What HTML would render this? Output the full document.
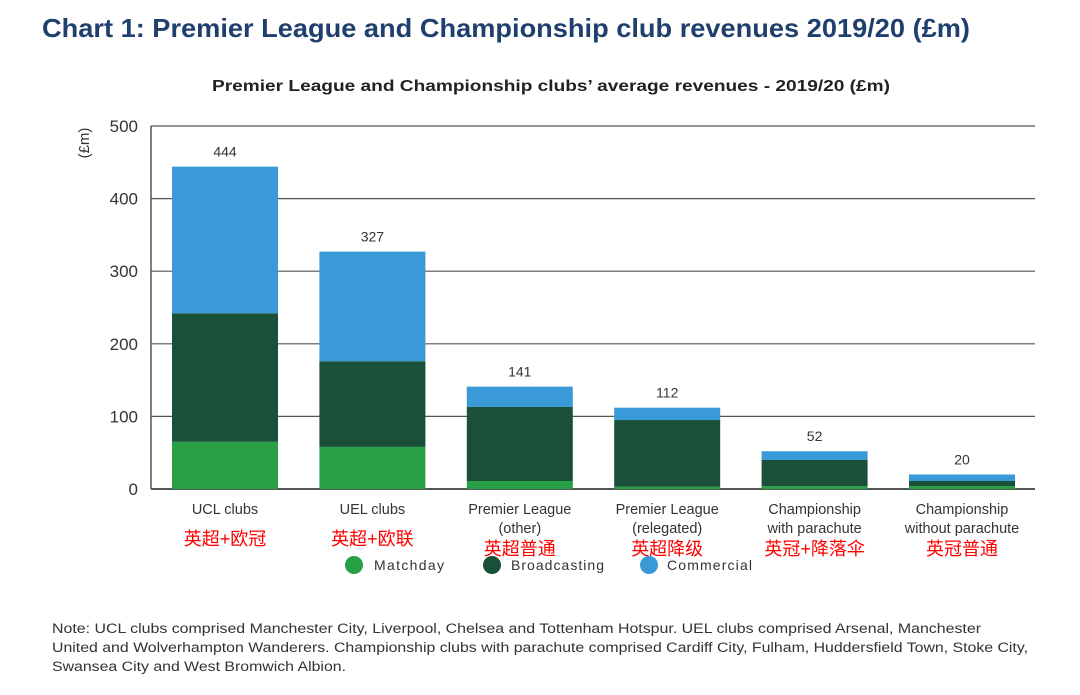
<!DOCTYPE html>
<html><head><meta charset="utf-8"><style>
body{margin:0;width:1080px;height:690px;background:#fff;overflow:hidden;font-family:"Liberation Sans","Noto Sans CJK SC",sans-serif}
</style></head><body>
<svg id="c" width="1080" height="690" xmlns="http://www.w3.org/2000/svg">
<text x="42" y="37" font-size="26" font-weight="bold" fill="#1f3f6e" textLength="928" lengthAdjust="spacingAndGlyphs">Chart 1: Premier League and Championship club revenues 2019/20 (£m)</text>
<text x="212" y="91" font-size="16" font-weight="bold" fill="#222" textLength="678" lengthAdjust="spacingAndGlyphs">Premier League and Championship clubs’ average revenues - 2019/20 (£m)</text>
<text transform="translate(89,143) rotate(-90)" font-size="15" fill="#333" text-anchor="middle">(£m)</text>
<g id="grid"></g><g id="bars"></g><g id="labels"></g>
<line x1="151" x2="151" y1="126" y2="489" stroke="#555" stroke-width="1.5"/>
<g>
<circle cx="354" cy="565" r="9" fill="#27a045"/><text x="374" y="570" font-size="14" fill="#333" textLength="70">Matchday</text>
<circle cx="492" cy="565" r="9" fill="#1b5038"/><text x="511" y="570" font-size="14" fill="#333" textLength="93">Broadcasting</text>
<circle cx="649" cy="565" r="9" fill="#3a9ad8"/><text x="667" y="570" font-size="14" fill="#333" textLength="85">Commercial</text>
</g>
<g font-size="13.5" fill="#333">
<text x="52" y="633" textLength="929" lengthAdjust="spacingAndGlyphs">Note: UCL clubs comprised Manchester City, Liverpool, Chelsea and Tottenham Hotspur. UEL clubs comprised Arsenal, Manchester</text>
<text x="52" y="652" textLength="976" lengthAdjust="spacingAndGlyphs">United and Wolverhampton Wanderers. Championship clubs with parachute comprised Cardiff City, Fulham, Huddersfield Town, Stoke City,</text>
<text x="52" y="671" textLength="294" lengthAdjust="spacingAndGlyphs">Swansea City and West Bromwich Albion.</text>
</g>
</svg>
<script>
const categories=[["UCL clubs"],["UEL clubs"],["Premier League","(other)"],["Premier League","(relegated)"],["Championship","with parachute"],["Championship","without parachute"]];
const cnLabels=["英超+欧冠","英超+欧联","英超普通","英超降级","英冠+降落伞","英冠普通"];
const matchday=[65,58,11,3,4,4];
const broadcasting=[177,118,102,92,36,7];
const commercial=[202,151,28,17,12,9];
const totals=[444,327,141,112,52,20];
const yTicks=[0,100,200,300,400,500];
const NS="http://www.w3.org/2000/svg";
const y0=489,y1=126,x0=151,x1=1035,bw=106,step=147.4,first=172;
const Y=v=>y0-(v/500)*(y0-y1);
const X=i=>first+i*step;
function mk(t,a,p){const e=document.createElementNS(NS,t);for(const k in a)e.setAttribute(k,a[k]);p.appendChild(e);return e;}
const grid=document.getElementById('grid'),bars=document.getElementById('bars'),lab=document.getElementById('labels');
yTicks.forEach(v=>{
 const l=mk('line',{x1:x0,x2:x1,y1:Y(v),y2:Y(v),stroke:'#555','stroke-width':v===0?2:1.2},grid);
 
 
 const t=mk('text',{x:138,y:Y(v)+6,'text-anchor':'end','font-size':17,fill:'#333'},grid);t.textContent=v;
 
 
});
const series=[[matchday,'#27a045','matchday'],[broadcasting,'#1b5038','broadcasting'],[commercial,'#3a9ad8','commercial']];
categories.forEach((c,i)=>{
 let base=0;
 series.forEach(([arr,col,nm])=>{
  const r=mk('rect',{x:X(i),width:bw,y:Y(base+arr[i]),height:Y(base)-Y(base+arr[i]),fill:col},bars);
  
  
  base+=arr[i];
 });
 const tv=mk('text',{x:X(i)+bw/2,y:Y(totals[i])-10,'text-anchor':'middle','font-size':14,fill:'#333'},lab);tv.textContent=totals[i];
 
 
 c.forEach((s,j)=>{const t=mk('text',{x:X(i)+bw/2,y:514+j*19,'text-anchor':'middle','font-size':14.5,fill:'#333'},lab);t.textContent=s;
  
  });
 const cy=c.length>1?555:545;
 const cn=mk('text',{x:X(i)+bw/2,y:cy,'text-anchor':'middle','font-size':18,fill:'#f00'},lab);cn.textContent=cnLabels[i];
 
 
});
</script>
</body></html>
